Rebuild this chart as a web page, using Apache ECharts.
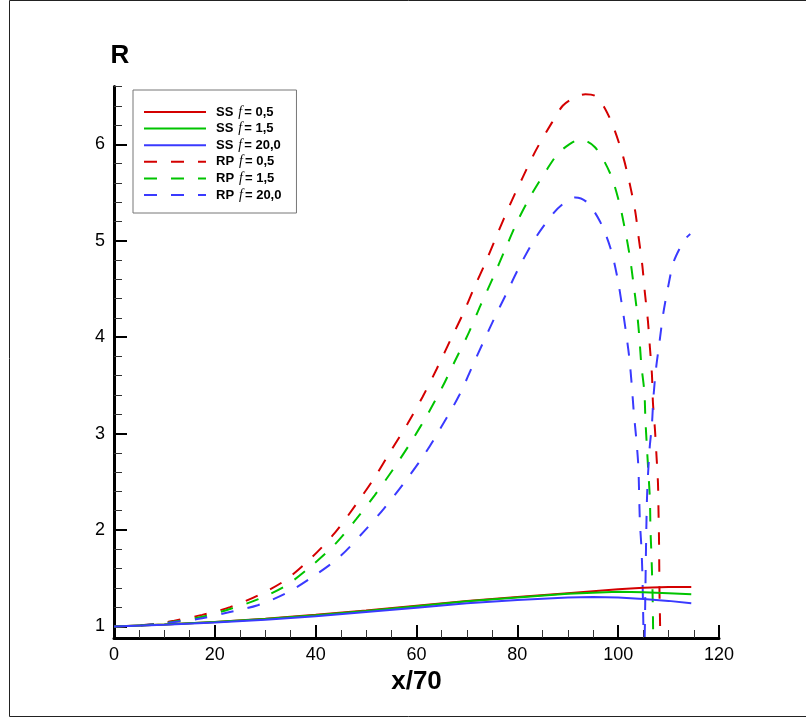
<!DOCTYPE html>
<html>
<head>
<meta charset="utf-8">
<script src="https://cdn.jsdelivr.net/npm/echarts@6/dist/echarts.min.js"></script>
<style>
html,body{margin:0;padding:0;background:#fff;}
#chart{width:806px;height:720px;}
</style>
</head>
<body>
<div id="chart"></div>
<script>
// ---- data ----
const seriesPrefix = ['SS', 'SS', 'SS', 'RP', 'RP', 'RP'];
const fValues = ['0,5', '1,5', '20,0', '0,5', '1,5', '20,0'];
const seriesNames = ['SS f= 0,5', 'SS f= 1,5', 'SS f= 20,0', 'RP f= 0,5', 'RP f= 1,5', 'RP f= 20,0'];

const ssF05 = [[0,1],[10,1.02],[20,1.045],[30,1.08],[40,1.12],[50,1.165],[60,1.215],[70,1.265],[80,1.305],[90,1.345],[100,1.385],[105,1.40],[110,1.41],[114.5,1.41]];
const ssF15 = [[0,1],[10,1.02],[20,1.045],[30,1.078],[40,1.115],[50,1.16],[60,1.21],[70,1.26],[80,1.30],[90,1.34],[100,1.36],[105,1.355],[110,1.345],[114.5,1.335]];
const ssF20 = [[0,1],[10,1.018],[20,1.04],[30,1.07],[40,1.105],[50,1.15],[60,1.195],[70,1.24],[80,1.275],[90,1.30],[95,1.305],[100,1.30],[105,1.285],[110,1.265],[114.5,1.24]];

const rpF05 = [[0,1],[5,1.01],[10,1.04],[12,1.06],[17.5,1.12],[23,1.2],[28.5,1.32],[34,1.48],[39.3,1.72],[43.8,1.97],[47.8,2.25],[51.5,2.53],[54.9,2.82],[58.2,3.10],[61.2,3.38],[64,3.67],[67,4.0],[69.2,4.24],[71.5,4.52],[73.9,4.80],[76.2,5.09],[78.5,5.37],[81,5.65],[83.7,5.94],[86.8,6.22],[89,6.40],[91.2,6.48],[93.5,6.52],[95.5,6.50],[97.4,6.37],[99.2,6.16],[101,5.87],[102.3,5.59],[103.4,5.30],[104.1,5.02],[104.8,4.74],[105.3,4.46],[105.9,4.17],[106.3,3.89],[106.7,3.61],[106.9,3.32],[107.3,3.04],[107.6,2.77],[107.9,2.48],[108.0,2.2],[108.1,1.91],[108.15,1.63],[108.2,1.34],[108.3,1.07],[108.4,0.6]];
const rpF15 = [[0,1],[5,1.01],[10,1.035],[12,1.05],[17.5,1.1],[23,1.18],[28.5,1.28],[34,1.42],[39.2,1.63],[43.8,1.85],[48,2.11],[51.7,2.36],[55.5,2.64],[59,2.92],[62.2,3.2],[65.1,3.48],[67.6,3.75],[70.4,4.05],[72.7,4.33],[75.2,4.62],[77.5,4.90],[80,5.2],[82.7,5.47],[86,5.75],[88,5.9],[90.3,6.0],[92.5,6.05],[95.4,5.97],[98.4,5.7],[100.2,5.4],[101.3,5.13],[102.3,4.84],[103.0,4.57],[103.7,4.28],[104.2,4.0],[104.6,3.71],[105.2,3.43],[105.4,3.15],[105.7,2.86],[106,2.59],[106.3,2.31],[106.4,2.02],[106.6,1.74],[106.8,1.4],[106.9,1.1],[107.0,0.6]];
const rpF20 = [[0,1],[5,1.01],[10,1.03],[12,1.045],[17.5,1.085],[23,1.15],[28.5,1.22],[34,1.34],[39,1.5],[44.5,1.71],[49.5,1.98],[53.5,2.22],[57.4,2.48],[61.4,2.77],[64.6,3.04],[68.5,3.4],[71.6,3.76],[75.3,4.18],[77.9,4.46],[80.6,4.75],[83.6,5.03],[87.4,5.30],[89.5,5.40],[91.5,5.45],[93.8,5.40],[96.4,5.2],[98.5,4.92],[99.8,4.63],[100.7,4.35],[101.5,4.07],[102.2,3.79],[102.7,3.5],[103.1,3.22],[103.6,2.94],[104.0,2.66],[104.3,2.1],[104.6,1.83],[104.8,1.55],[105.0,1.0],[105.1,0.6],[105.7,2.3],[106.2,2.82],[106.7,3.1],[107.0,3.38],[107.5,3.67],[108.2,3.95],[108.9,4.23],[109.9,4.52],[111.0,4.78],[112.5,4.95],[113.5,5.03],[114.3,5.07]];

const yMajorTicks = [1, 2, 3, 4, 5, 6];
const yMinorTicks = [1.2,1.4,1.6,1.8,2.2,2.4,2.6,2.8,3.2,3.4,3.6,3.8,4.2,4.4,4.6,4.8,5.2,5.4,5.6,5.8,6.2,6.4,6.6];

// ---- chart ----
const RED = '#d40000', GREEN = '#00c400', BLUE = '#3a3aff';
const FONT = 'Liberation Sans, Arial, sans-serif';
const chart = echarts.init(document.getElementById('chart'), null, {renderer: 'canvas'});

function mk(name, data, color, dashed) {
  return {
    name: name, type: 'line', data: data, symbol: 'none', showSymbol: false,
    smooth: dashed ? 0.3 : false,
    xAxisIndex: 0, yAxisIndex: 0, clip: true, animation: false,
    lineStyle: {color: color, width: 2, type: dashed ? [13, 14] : 'solid'},
    itemStyle: {color: color}
  };
}

const option = {
  animation: false,
  backgroundColor: '#fff',
  textStyle: {fontFamily: FONT},
  graphic: [{
    type: 'rect', silent: true, z: -1,
    shape: {x: 9.5, y: 0.5, width: 800, height: 716},
    style: {fill: 'none', stroke: '#222', lineWidth: 1}
  }],
  grid: {left: 114, right: 87, top: 86.5, bottom: 82, containLabel: false},
  legend: {
    orient: 'vertical', left: 133, top: 90,
    padding: [15, 15, 11, 10],
    itemWidth: 62, itemHeight: 14, itemGap: 2.6,
    borderColor: '#777', borderWidth: 1, backgroundColor: '#fff',
    itemStyle: {color: 'rgba(0,0,0,0)', borderWidth: 0, opacity: 0},
    data: seriesNames,
    formatter: function (name) {
      const i = seriesNames.indexOf(name);
      return '{b|' + seriesPrefix[i] + '}{f|f}{b|= ' + fValues[i] + '}';
    },
    textStyle: {
      padding: [0, 0, 0, 5],
      rich: {
        b: {fontFamily: FONT, fontWeight: 'bold', fontSize: 13, color: '#000', lineHeight: 14},
        f: {fontFamily: 'Liberation Serif, serif', fontStyle: 'italic', fontSize: 14, color: '#000', lineHeight: 14, padding: [0, 2, 0, 5]}
      }
    }
  },
  xAxis: {
    type: 'value', min: 0, max: 120, interval: 20,
    name: 'x/70', nameLocation: 'middle', nameGap: 26,
    nameTextStyle: {fontFamily: FONT, fontWeight: 'bold', fontSize: 26, color: '#000'},
    axisLine: {show: true, onZero: false, lineStyle: {color: '#000', width: 3}},
    axisTick: {show: true, inside: true, length: 13, lineStyle: {color: '#000', width: 2}},
    minorTick: {show: true, splitNumber: 4, length: 8, lineStyle: {color: '#333', width: 1}},
    axisLabel: {fontFamily: FONT, fontSize: 18, color: '#000', margin: 8},
    splitLine: {show: false}, minorSplitLine: {show: false}
  },
  yAxis: [{
    type: 'value', min: 0.88, max: 6.6, position: 'left', offset: 0,
    name: 'R', nameLocation: 'end', nameGap: 18,
    nameTextStyle: {fontFamily: FONT, fontWeight: 'bold', fontSize: 26, color: '#000', padding: [0, 0, 0, 12]},
    axisLine: {show: true, onZero: false, lineStyle: {color: '#000', width: 3}},
    axisTick: {show: true, inside: true, length: 13, customValues: yMajorTicks, lineStyle: {color: '#000', width: 2}},
    axisLabel: {fontFamily: FONT, fontSize: 18, color: '#000', margin: 9, customValues: yMajorTicks},
    splitLine: {show: false}
  }, {
    type: 'value', min: 0.88, max: 6.6, position: 'left', offset: 0,
    axisLine: {show: false},
    axisTick: {show: true, inside: true, length: 8, customValues: yMinorTicks, lineStyle: {color: '#333', width: 1}},
    axisLabel: {show: false},
    splitLine: {show: false}
  }],
  series: [
    mk(seriesNames[3], rpF05, RED, true),
    mk(seriesNames[4], rpF15, GREEN, true),
    mk(seriesNames[5], rpF20, BLUE, true),
    mk(seriesNames[0], ssF05, RED, false),
    mk(seriesNames[1], ssF15, GREEN, false),
    mk(seriesNames[2], ssF20, BLUE, false)
  ]
};
chart.setOption(option);
</script>
</body>
</html>
